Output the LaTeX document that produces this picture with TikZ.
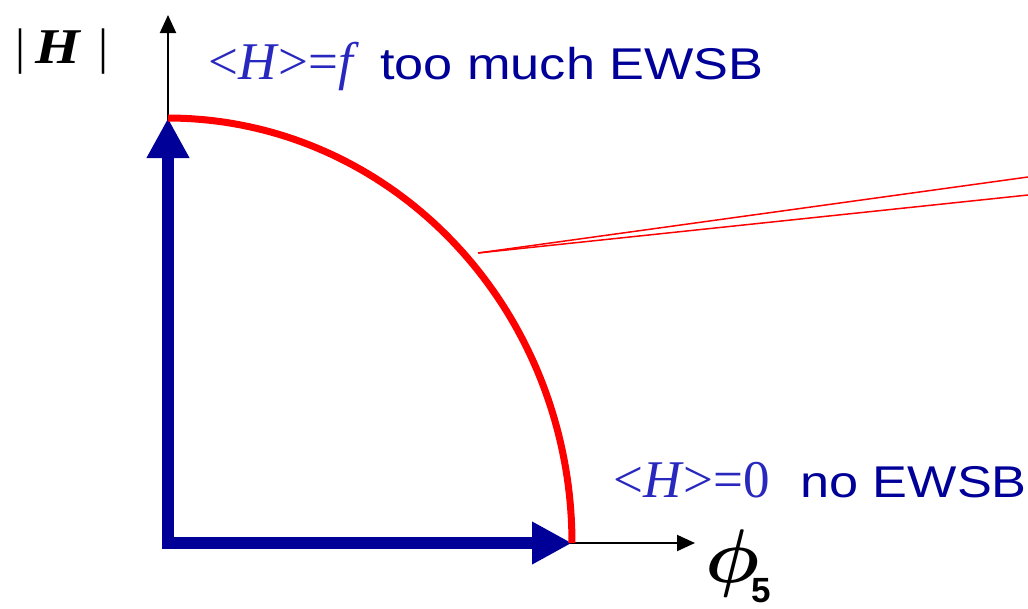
\documentclass[tikz,border=0pt]{standalone}
\usepackage{amsmath}
\usepackage{graphicx}
\usepackage{fontspec}
\setmainfont{Liberation Serif}
\setsansfont{Liberation Sans}
\usetikzlibrary{arrows.meta}
\definecolor{ewblue}{RGB}{0,0,153}
\definecolor{hblue}{RGB}{40,40,190}
\definecolor{arrblue}{RGB}{0,0,153}
\definecolor{arcred}{RGB}{255,0,0}
\tikzset{
  axisline/.style={draw=black, line width=2pt, -{Triangle[length=18pt,width=16pt]}},
  bluearrow/.style={draw=arrblue, line width=12pt, line cap=rect, -{Triangle[length=40pt,width=40pt]}},
  redarc/.style={draw=arcred, line width=7pt},
  redpin/.style={draw=arcred, line width=1.5pt},
  lbl/.style={inner sep=0pt, anchor=base west},
  serifblue/.style={lbl, text=hblue, font=\fontsize{53}{60}\selectfont\rmfamily},
  sansblue/.style={lbl, text=ewblue, font=\fontsize{44.5}{50}\selectfont\sffamily},
}
\begin{document}
\begin{tikzpicture}[x=1pt, y=-1pt]
\useasboundingbox (0,0) rectangle (1028,608);
\coordinate (O) at (168,543);
\coordinate (ytip) at (168,15);
\coordinate (xtip) at (695,543);
\coordinate (htop) at (168,118);
\coordinate (fright) at (572,543);
\coordinate (pin) at (478,253);
\coordinate (pinA) at (1028,177);
\coordinate (pinB) at (1028,195);
% axes
\draw[axisline] (O) -- (ytip);
\draw[axisline] (O) -- (xtip);
% blue arrows
\draw[bluearrow] (O) -- (htop);
\draw[bluearrow] (O) -- (fright);
% red arc
\draw[redarc] plot[domain=90:0, samples=80] ({168+404*cos(\x)}, {543-425*sin(\x)});
% red pointer lines
\draw[redpin] (pin) -- (pinA);
\draw[redpin] (pin) -- (pinB);
% labels
\node[lbl, font=\fontsize{50}{56}\selectfont\rmfamily] (absH) at (15,63) {|\hspace{10pt}\scalebox{1.15}[1]{\textbf{\itshape H}}\hspace{17pt}|};
\node[serifblue] (expf) at (208,79) {<\textit{H}>=\textit{f}};
\node[sansblue] (much) at (380,79) {\scalebox{1.175}[1]{too much EWSB}};
\node[serifblue] (exp0) at (613,497) {<\textit{H}>=0};
\node[sansblue] (noew) at (800,497) {\scalebox{1.175}[1]{no EWSB}};
\node[lbl] (phi) at (705,582) {\scalebox{7.6}{$\boldsymbol{\phi}$}};
\node[lbl, font=\fontsize{35}{40}\selectfont\sffamily\bfseries] (five) at (751,602) {5};
\end{tikzpicture}
\end{document}
